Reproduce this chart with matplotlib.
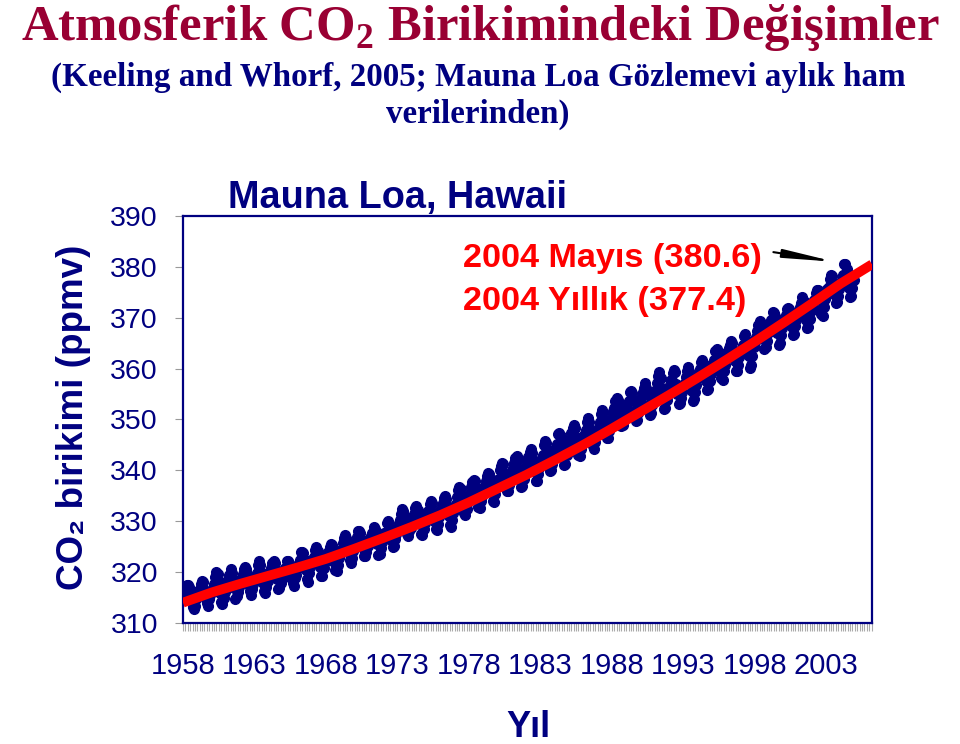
import matplotlib
matplotlib.use('Agg')
import matplotlib.pyplot as plt
from matplotlib.ticker import MultipleLocator, FixedLocator

# Mauna Loa monthly means (ppmv), Jan..Dec, 1958-2004
years = list(range(1958, 2005))
co2_monthly = [
    [None, None, 315.71, 317.45, 317.50, 317.10, 315.86, 314.93, 313.20, 312.66, 313.33, 314.67],
    [315.62, 316.38, 316.71, 317.72, 318.29, 318.15, 316.54, 314.80, 313.84, 313.26, 314.80, 315.58],
    [316.43, 316.97, 317.58, 319.02, 320.03, 319.59, 318.18, 315.91, 314.16, 313.83, 315.00, 316.19],
    [316.93, 317.70, 318.54, 319.48, 320.58, 319.77, 318.57, 316.79, 314.80, 315.38, 316.10, 317.01],
    [317.94, 318.56, 319.68, 320.63, 321.01, 320.55, 319.58, 317.40, 316.26, 315.42, 316.69, 317.69],
    [318.74, 319.08, 319.86, 321.39, 322.25, 321.47, 319.74, 317.77, 316.21, 315.99, 317.12, 318.31],
    [319.57, 320.07, 320.73, 321.77, 322.25, 321.89, 320.44, 318.70, 316.70, 316.79, 317.79, 318.71],
    [319.44, 320.44, 320.89, 322.13, 322.16, 321.87, 321.39, 318.81, 317.81, 317.30, 318.87, 319.42],
    [320.62, 321.59, 322.39, 323.87, 324.01, 323.75, 322.39, 320.37, 318.64, 318.10, 319.79, 321.08],
    [322.07, 322.50, 323.04, 324.42, 325.00, 324.09, 322.55, 320.92, 319.31, 319.31, 320.72, 321.96],
    [322.57, 323.15, 323.89, 325.02, 325.57, 325.36, 324.14, 322.03, 320.41, 320.25, 321.31, 322.84],
    [324.00, 324.42, 325.64, 326.66, 327.34, 326.76, 325.88, 323.67, 322.38, 321.78, 322.85, 324.11],
    [325.03, 325.99, 326.87, 328.13, 328.07, 327.66, 326.35, 324.69, 323.10, 323.16, 323.98, 325.13],
    [326.17, 326.68, 327.18, 327.78, 328.92, 328.57, 327.34, 325.46, 323.36, 323.57, 324.80, 326.01],
    [326.77, 327.63, 327.75, 329.72, 330.07, 329.09, 328.05, 326.32, 324.93, 325.06, 326.50, 327.55],
    [328.54, 329.56, 330.30, 331.50, 332.48, 332.07, 330.87, 329.31, 327.51, 327.18, 328.16, 328.64],
    [329.35, 330.71, 331.48, 332.65, 333.09, 332.25, 331.18, 329.40, 327.43, 327.37, 328.46, 329.57],
    [330.40, 331.40, 332.04, 333.31, 333.96, 333.59, 331.91, 330.06, 328.56, 328.34, 329.49, 330.76],
    [331.75, 332.56, 333.50, 334.58, 334.87, 334.34, 333.05, 330.94, 329.30, 328.94, 330.31, 331.68],
    [332.93, 333.42, 334.70, 336.07, 336.74, 336.27, 334.93, 332.75, 331.58, 331.16, 332.40, 333.85],
    [334.97, 335.39, 336.64, 337.76, 338.01, 337.89, 336.54, 334.68, 332.76, 332.55, 333.92, 334.95],
    [336.23, 336.76, 337.96, 338.89, 339.47, 339.29, 337.73, 336.09, 333.91, 333.86, 335.29, 336.73],
    [338.01, 338.36, 340.08, 340.77, 341.46, 341.17, 339.56, 337.60, 335.88, 336.01, 337.10, 338.21],
    [339.23, 340.47, 341.38, 342.51, 342.91, 342.25, 340.49, 338.43, 336.69, 336.85, 338.36, 339.61],
    [340.75, 341.61, 342.70, 343.56, 344.13, 343.35, 342.06, 339.82, 337.97, 337.86, 339.26, 340.49],
    [341.38, 342.52, 343.10, 344.94, 345.75, 345.32, 343.99, 342.39, 339.86, 339.99, 341.16, 342.99],
    [343.70, 344.51, 345.28, 347.08, 347.43, 346.79, 345.40, 343.28, 341.07, 341.35, 342.98, 344.22],
    [344.97, 345.99, 347.42, 348.35, 348.93, 348.25, 346.56, 344.67, 343.09, 342.80, 344.24, 345.56],
    [346.30, 346.95, 347.85, 349.55, 350.21, 349.54, 347.94, 345.91, 344.86, 344.17, 345.66, 346.90],
    [348.02, 348.47, 349.42, 350.99, 351.84, 351.25, 349.52, 348.10, 346.44, 346.36, 347.81, 348.96],
    [350.43, 351.72, 352.22, 353.59, 354.22, 353.79, 352.39, 350.44, 348.72, 348.88, 350.07, 351.34],
    [352.76, 353.07, 353.68, 355.42, 355.67, 355.13, 353.90, 351.67, 349.80, 349.99, 351.30, 352.52],
    [353.66, 354.70, 355.39, 356.20, 357.16, 356.22, 354.82, 352.91, 350.96, 351.18, 352.83, 354.21],
    [354.72, 355.75, 357.16, 358.60, 359.34, 358.24, 356.17, 354.03, 352.16, 352.21, 353.75, 354.99],
    [355.99, 356.72, 357.81, 359.15, 359.66, 359.25, 357.03, 355.00, 353.01, 353.31, 354.16, 355.40],
    [356.70, 357.16, 358.38, 359.46, 360.28, 359.60, 357.57, 355.52, 353.70, 353.98, 355.33, 356.80],
    [358.36, 358.91, 359.97, 361.26, 361.68, 360.95, 359.55, 357.49, 355.84, 355.99, 357.58, 359.04],
    [359.97, 361.00, 361.64, 363.45, 363.79, 363.26, 361.90, 359.46, 358.06, 357.75, 359.56, 360.70],
    [362.05, 363.25, 364.03, 364.72, 365.41, 364.97, 363.65, 361.49, 359.46, 359.60, 360.76, 362.33],
    [363.18, 364.00, 364.57, 366.35, 366.79, 365.62, 364.47, 362.51, 360.19, 360.77, 362.43, 364.28],
    [365.32, 366.15, 367.31, 368.61, 369.29, 368.87, 367.64, 365.77, 363.90, 364.23, 365.46, 366.97],
    [368.15, 368.87, 369.59, 371.14, 371.00, 370.35, 369.27, 366.94, 364.63, 365.12, 366.67, 368.01],
    [369.14, 369.46, 370.52, 371.66, 371.82, 371.70, 370.12, 368.12, 366.62, 366.73, 368.29, 369.53],
    [370.28, 371.50, 372.12, 372.87, 374.02, 373.30, 371.62, 369.55, 367.96, 368.09, 369.68, 371.24],
    [372.44, 373.08, 373.52, 374.85, 375.55, 375.40, 374.02, 371.48, 370.70, 370.25, 372.08, 373.78],
    [374.68, 375.63, 376.11, 377.65, 378.35, 378.13, 376.62, 374.50, 372.99, 373.00, 374.35, 375.70],
    [376.79, 377.37, 378.41, 380.52, 380.63, 379.57, 377.79, 375.86, 374.06, 374.24, 375.86, 377.48],
]

# red trend curve
trend_year = [1958, 1960, 1962, 1964, 1966, 1968, 1970, 1972, 1974, 1976, 1978, 1980,
              1982, 1984, 1986, 1988, 1990, 1992, 1994, 1996, 1998, 2000, 2002, 2004, 2006.2]
trend_ppm = [314.0, 316.0, 317.7, 319.3, 320.9, 322.6, 324.6, 326.7, 328.9, 331.2, 333.7, 336.4,
             339.1, 342.0, 345.0, 348.2, 351.5, 354.8, 358.2, 361.7, 365.3, 369.0, 372.8, 376.7, 380.5]

ytick_values = [310, 320, 330, 340, 350, 360, 370, 380, 390]
xtick_years = [1958, 1963, 1968, 1973, 1978, 1983, 1988, 1993, 1998, 2003]

navy = '#000080'
plt.rcParams['font.family'] = ['Liberation Sans', 'DejaVu Sans']
plt.rcParams['mathtext.fontset'] = 'custom'
plt.rcParams['mathtext.rm'] = 'Liberation Serif:bold'
plt.rcParams['mathtext.bf'] = 'Liberation Serif:bold'

t, co2 = [], []
for yr, row in zip(years, co2_monthly):
    for m, v in enumerate(row):
        if v is not None:
            t.append(yr + m / 12.0)
            co2.append(v)

W, H = 960.0, 744.0
fig = plt.figure(figsize=(9.6, 7.44), dpi=100)
ax = fig.add_axes([183 / W, 1 - 623 / H, (872 - 183) / W, (623 - 216) / H])

ax.plot(t, co2, color=navy, lw=2.4, marker='o', ms=7, mec=navy, mfc=navy, zorder=2)
ax.plot(trend_year, trend_ppm, color='#ff0000', lw=7, solid_capstyle='butt', zorder=3)

ax.set_xlim(1958, 2006.2)
ax.set_ylim(310, 390)
ax.yaxis.set_major_locator(FixedLocator(ytick_values))
ax.xaxis.set_major_locator(FixedLocator(xtick_years))
ax.xaxis.set_minor_locator(MultipleLocator(1 / 6.0))
ax.set_xticklabels([str(y) for y in xtick_years])

for s in ax.spines.values():
    s.set_color(navy)
    s.set_linewidth(1.6)
ax.tick_params(axis='y', direction='out', length=6, width=0.8, color='#999999',
               labelsize=20.5, labelcolor=navy, pad=12)
ax.tick_params(axis='x', which='both', direction='out', length=6, width=0.8, color='#aaaaaa',
               labelsize=21, labelcolor=navy, pad=15)

# texts
fig.text(480 / W, 1 - 40 / H, 'Atmosferik CO$_2$ Birikimindeki Değişimler',
         family='Liberation Serif', weight='bold', size=36.5, color='#990033',
         ha='center', va='baseline')
fig.text(478 / W, 1 - 86 / H, '(Keeling and Whorf, 2005; Mauna Loa Gözlemevi aylık ham',
         family='Liberation Serif', weight='bold', size=23.8, color=navy, ha='center', va='baseline')
fig.text(478 / W, 1 - 123 / H, 'verilerinden)',
         family='Liberation Serif', weight='bold', size=23.8, color=navy, ha='center', va='baseline')

fig.text(228 / W, 1 - 208 / H, 'Mauna Loa, Hawaii', weight='bold', size=27.3, color=navy,
         ha='left', va='baseline')
fig.text(463 / W, 1 - 267 / H, '2004 Mayıs (380.6)', weight='bold', size=24.7, color='#ff0000',
         ha='left', va='baseline')
fig.text(463 / W, 1 - 310 / H, '2004 Yıllık (377.4)', weight='bold', size=24.7, color='#ff0000',
         ha='left', va='baseline')
fig.text(83 / W, 1 - 417 / H, 'CO₂ birikimi (ppmv)', weight='bold', size=26.5, color=navy,
         rotation=90, rotation_mode='anchor', ha='center', va='baseline')
fig.text(528 / W, 1 - 737 / H, 'Yıl', weight='bold', size=26, color=navy,
         ha='center', va='baseline')

ax.annotate('', xy=(2003.6, 381.0), xytext=(1999.3, 382.9),
            arrowprops=dict(arrowstyle='-|>,head_length=30,head_width=2.5', mutation_scale=1,
                            color='black', lw=1.5, shrinkA=0, shrinkB=0))

fig.savefig('out.png', dpi=100)
